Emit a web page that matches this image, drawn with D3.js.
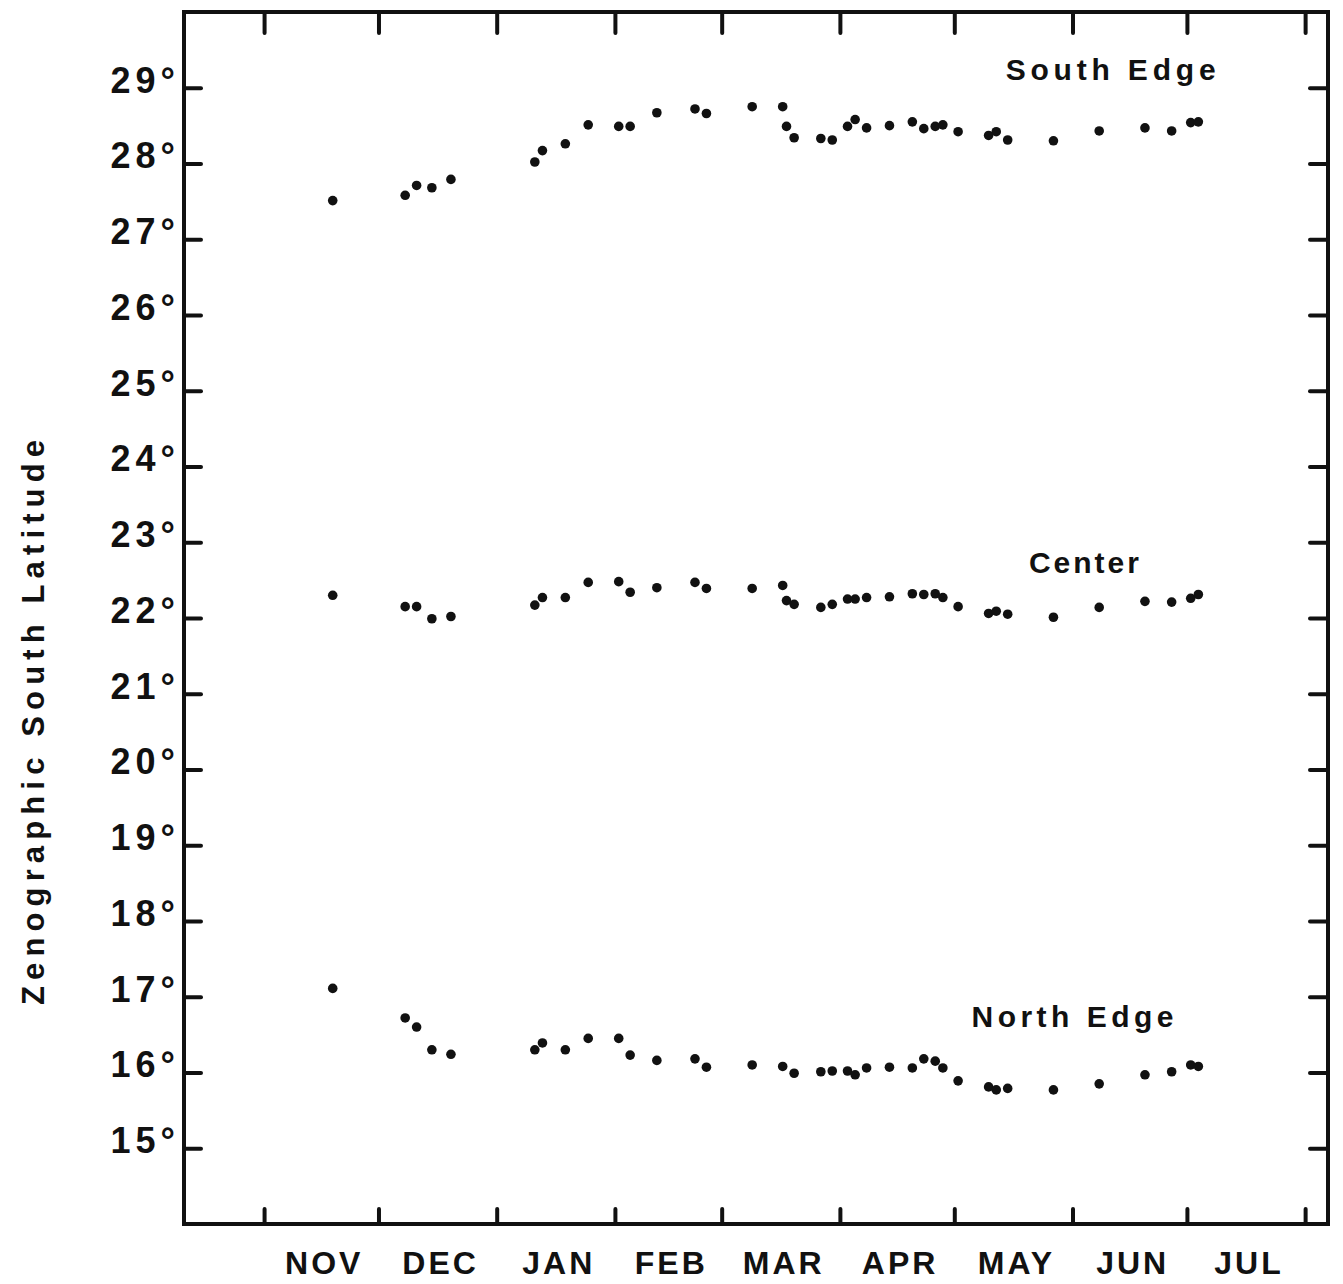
<!DOCTYPE html>
<html>
<head>
<meta charset="utf-8">
<script src="https://cdn.jsdelivr.net/npm/d3@7"></script>
<style>
  body { margin: 0; background: #fff; }
  text { font-family: "Liberation Sans", Arial, sans-serif; font-weight: bold; fill: #111; }
</style>
</head>
<body>
<svg id="chart"></svg>
<script>
// observation dates (season 1966-67), shared by the three tracks
const obsDates = [
  "1966-11-19", "1966-12-08", "1966-12-11", "1966-12-15", "1966-12-20",
  "1967-01-11", "1967-01-13", "1967-01-19", "1967-01-25", "1967-02-02",
  "1967-02-05", "1967-02-12", "1967-02-22", "1967-02-25", "1967-03-09",
  "1967-03-17", "1967-03-18", "1967-03-20", "1967-03-27", "1967-03-30",
  "1967-04-03", "1967-04-05", "1967-04-08", "1967-04-14", "1967-04-20",
  "1967-04-23", "1967-04-26", "1967-04-28", "1967-05-02", "1967-05-10",
  "1967-05-12", "1967-05-15", "1967-05-27", "1967-06-08", "1967-06-20",
  "1967-06-27", "1967-07-02", "1967-07-04"
];

const southEdge = [
  27.51, 27.58, 27.71, 27.68, 27.79, 28.02, 28.17, 28.26, 28.51, 28.49,
  28.49, 28.67, 28.72, 28.66, 28.75, 28.75, 28.49, 28.34, 28.33, 28.31,
  28.49, 28.58, 28.47, 28.50, 28.55, 28.46, 28.49, 28.51, 28.42, 28.37,
  28.42, 28.31, 28.30, 28.43, 28.47, 28.43, 28.54, 28.55
];

const center = [
  22.30, 22.15, 22.15, 21.99, 22.02, 22.17, 22.27, 22.27, 22.47, 22.48,
  22.34, 22.40, 22.47, 22.39, 22.39, 22.43, 22.23, 22.18, 22.14, 22.18,
  22.25, 22.25, 22.27, 22.28, 22.32, 22.31, 22.32, 22.27, 22.15, 22.06,
  22.09, 22.05, 22.01, 22.14, 22.22, 22.21, 22.26, 22.31
];

const northEdge = [
  17.11, 16.72, 16.60, 16.30, 16.24, 16.30, 16.39, 16.30, 16.45, 16.45,
  16.23, 16.16, 16.18, 16.07, 16.10, 16.08, null, 15.99, 16.01, 16.02,
  16.02, 15.97, 16.06, 16.07, 16.06, 16.18, 16.15, 16.06, 15.89, 15.81,
  15.77, 15.79, 15.77, 15.85, 15.97, 16.01, 16.10, 16.08
];

const monthLabels = ["NOV", "DEC", "JAN", "FEB", "MAR", "APR", "MAY", "JUN", "JUL"];
const latTicks = [15, 16, 17, 18, 19, 20, 21, 22, 23, 24, 25, 26, 27, 28, 29];

const seriesLabels = [
  { name: "South Edge", lat: 29.1, date: "1967-06-11", len: 210 },
  { name: "Center",     lat: 22.6, date: "1967-06-04", len: 110 },
  { name: "North Edge", lat: 16.6, date: "1967-06-01", len: 202 }
];

const width = 1343, height = 1284;
const L = 184, R = 1328, T = 12, B = 1224;
const parse = d3.timeParse("%Y-%m-%d");

const svg = d3.select("#chart").attr("width", width).attr("height", height);
svg.append("rect").attr("width", width).attr("height", height).attr("fill", "#fff");

const x = d3.scaleTime()
    .domain([parse("1966-10-11"), parse("1967-08-07")])
    .range([L, R]);
const y = d3.scaleLinear().domain([14, 30]).range([B, T]);

const months = d3.timeMonth.range(parse("1966-11-01"), parse("1967-08-02"));

// inward ticks on all four sides
const styleAxis = g => {
  g.select(".domain").remove();
  g.selectAll(".tick line").attr("stroke", "#111").attr("stroke-width", 4).attr("stroke-linecap", "round");
};

svg.append("g").attr("transform", `translate(0,${B})`)
    .call(d3.axisBottom(x).tickValues(months).tickSize(-15).tickFormat(""))
    .call(styleAxis);
svg.append("g").attr("transform", `translate(0,${T})`)
    .call(d3.axisTop(x).tickValues(months).tickSize(-21).tickFormat(""))
    .call(styleAxis);
svg.append("g").attr("transform", `translate(${R},0)`)
    .call(d3.axisRight(y).tickValues(latTicks).tickSize(-18).tickFormat(""))
    .call(styleAxis);

const yAxis = svg.append("g").attr("transform", `translate(${L},0)`)
    .call(d3.axisLeft(y).tickValues(latTicks).tickSize(-17).tickPadding(4).tickFormat(d => d + "°"))
    .call(styleAxis);
yAxis.selectAll(".tick text")
    .attr("font-size", 36)
    .attr("letter-spacing", 5)
    .attr("dy", "0.12em")
    .style("font-family", "'Liberation Sans', Arial, sans-serif")
    .style("font-weight", "bold")
    .attr("fill", "#111");

// frame
svg.append("rect")
    .attr("x", L).attr("y", T)
    .attr("width", R - L).attr("height", B - T)
    .attr("fill", "none").attr("stroke", "#111").attr("stroke-width", 4);

// month names centred in each month
svg.append("g").selectAll("text")
    .data(monthLabels)
    .join("text")
    .attr("x", (d, i) => (x(months[i]) + x(months[i + 1])) / 2 + 3)
    .attr("y", B + 50)
    .attr("text-anchor", "middle")
    .attr("font-size", 32)
    .attr("letter-spacing", 3)
    .text(d => d);

// axis title
svg.append("text")
    .attr("transform", `translate(44,${(440 + 1005) / 2}) rotate(-90)`)
    .attr("text-anchor", "middle")
    .attr("font-size", 31)
    .attr("textLength", 565)
    .attr("lengthAdjust", "spacing")
    .text("Zenographic  South  Latitude");

// dots
const dates = obsDates.map(parse);
[southEdge, center, northEdge].forEach(vals => {
  const pts = vals.map((v, i) => ({ date: dates[i], lat: v })).filter(d => d.lat != null);
  svg.append("g").selectAll("circle")
      .data(pts)
      .join("circle")
      .attr("cx", d => x(d.date))
      .attr("cy", d => y(d.lat))
      .attr("r", 4.8)
      .attr("fill", "#111");
});

// track labels
svg.append("g").selectAll("text")
    .data(seriesLabels)
    .join("text")
    .attr("x", d => x(parse(d.date)))
    .attr("y", d => y(d.lat))
    .attr("text-anchor", "middle")
    .attr("font-size", 30)
    .attr("textLength", d => d.len)
    .attr("lengthAdjust", "spacing")
    .text(d => d.name);
</script>
</body>
</html>
